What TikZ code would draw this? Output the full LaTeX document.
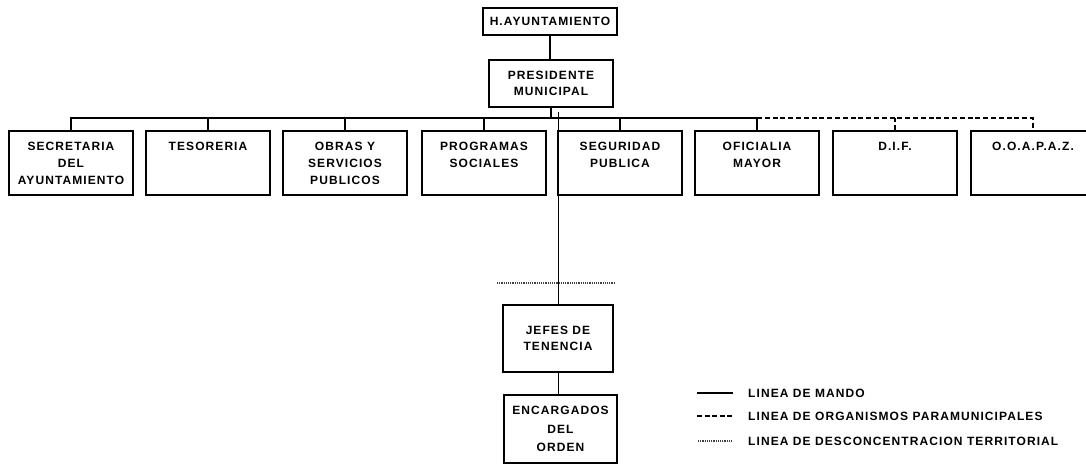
\documentclass[tikz,border=0pt]{standalone}
\usepackage{fontspec}
\newfontfamily\orgfont{Liberation Sans}[LetterSpace=9]
\tikzset{
  box/.style={draw, line width=1.8pt, inner sep=0pt, align=center,
    font=\orgfont\bfseries\fontsize{12}{16}\selectfont},
  rowbox/.style={box, minimum width=124, minimum height=64},
  conn/.style={line width=2pt},
  dconn/.style={line width=2pt, dash pattern=on 5pt off 2.8pt},
  thinconn/.style={line width=1pt},
  dotline/.style={line width=1.2pt, dash pattern=on 1.2pt off 1pt, black!75},
  legtext/.style={anchor=west, inner sep=0pt, font=\orgfont\bfseries\fontsize{12}{16}\selectfont}
}
\newcommand{\rowtext}[1]{\parbox[c][60pt][t]{122pt}{\centering\setlength\baselineskip{17pt}\rule{0pt}{17pt}#1\par}}
\begin{document}
\begin{tikzpicture}[x=1pt,y=-1pt]
\useasboundingbox (0,0) rectangle (1086,464);
\clip (0,0) rectangle (1086,464);
% top
\node[box, minimum width=134, minimum height=27] (hay) at (550,21.5) {H.AYUNTAMIENTO};
\node[box, minimum width=124, minimum height=47] (pres) at (551,83.5) {PRESIDENTE\\MUNICIPAL};
% row
\node[rowbox] (sec) at (71,163) {\rowtext{SECRETARIA\\DEL\\AYUNTAMIENTO}};
\node[rowbox] (tes) at (208,163) {\rowtext{TESORERIA}};
\node[rowbox] (obr) at (345,163) {\rowtext{OBRAS Y\\SERVICIOS\\PUBLICOS}};
\node[rowbox] (pro) at (484,163) {\rowtext{PROGRAMAS\\SOCIALES}};
\node[rowbox] (seg) at (620,163) {\rowtext{SEGURIDAD\\PUBLICA}};
\node[rowbox] (ofi) at (757,163) {\rowtext{OFICIALIA\\MAYOR}};
\node[rowbox] (dif) at (895,163) {\rowtext{D.I.F.}};
\node[rowbox] (ooa) at (1033,163) {\rowtext{O.O.A.P.A.Z.}};
% lower
\node[box, minimum width=110, minimum height=67] (jef) at (558,338.5) {JEFES DE\\TENENCIA};
\node[box, minimum width=113, minimum height=68, font=\orgfont\bfseries\fontsize{12}{18.5}\selectfont] (enc) at (560.5,429) {ENCARGADOS\\DEL\\ORDEN};
% connectors
\coordinate (bus) at (552,118);
\draw[conn] (hay.south) -- (hay.south |- pres.north);
\draw[conn] (pres.south) -- (pres.south |- bus);
\draw[conn] (sec.north) |- (ofi.north |- bus) -- (ofi.north);
\foreach \n in {tes,obr,pro,seg}{\draw[conn] (\n.north) -- (\n.north |- bus);}
\draw[dconn] (ofi.north |- bus) -| (ooa.north);
\draw[dconn] (dif.north) -- (dif.north |- bus);
\coordinate (tt) at (558,112);
\draw[thinconn] (tt) -- (jef.north);
\coordinate (dl) at (497,283);
\coordinate (dr) at (615,283);
\draw[dotline] (dl) -- (dr);
\draw[thinconn] (jef.south) -- (jef.south |- enc.north);
% legend
\coordinate (l1a) at (697,393); \coordinate (l1b) at (733,393);
\coordinate (l2a) at (697,416); \coordinate (l2b) at (733,416);
\coordinate (l3a) at (698,441); \coordinate (l3b) at (733,441);
\draw[line width=1.5pt] (l1a) -- (l1b);
\draw[line width=1.5pt, dash pattern=on 5pt off 2.5pt] (l2a) -- (l2b);
\draw[dotline] (l3a) -- (l3b);
\node[legtext] (t1) at (748,393) {LINEA DE MANDO};
\node[legtext] (t2) at (748,416) {LINEA DE ORGANISMOS PARAMUNICIPALES};
\node[legtext] (t3) at (748,441) {LINEA DE DESCONCENTRACION TERRITORIAL};
\end{tikzpicture}
\end{document}
